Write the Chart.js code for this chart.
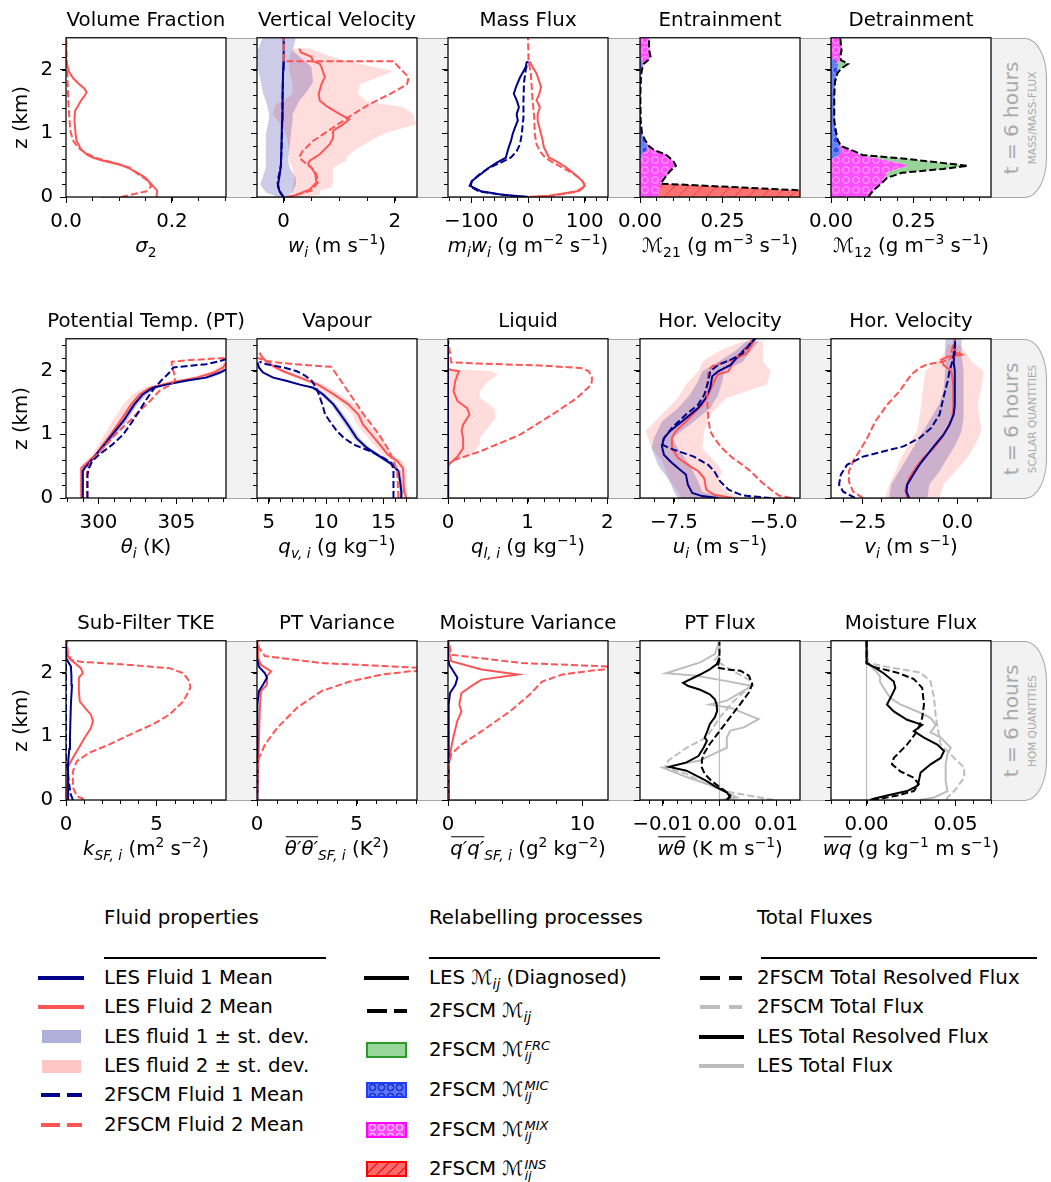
<!DOCTYPE html>
<html><head><meta charset="utf-8">
<script src="https://cdn.jsdelivr.net/npm/chart.js@4.4.1/dist/chart.umd.min.js"></script>
<style>
html,body{margin:0;padding:0;background:#fff;}
body{width:1051px;height:1182px;position:relative;overflow:hidden;font-family:"DejaVu Sans",sans-serif;color:#000;}
canvas{position:absolute;}
.band{position:absolute;box-sizing:border-box;background:#f2f2f2;border:1px solid #a6a6a6;border-left:none;border-radius:0 22px 22px 0/0 40px 40px 0;}
.side{position:absolute;transform:translate(-50%,-50%) rotate(-90deg);white-space:nowrap;color:#a9a9a9;}
.lg{position:absolute;font-size:19.8px;line-height:24px;height:24px;white-space:nowrap;}
.hl{position:absolute;height:4px;}
.rule{position:absolute;height:2px;background:#000;}
.patch{position:absolute;box-sizing:border-box;}
.ms{position:relative;display:inline-block;width:2em;height:0;}
.ms .sp{position:absolute;left:1px;bottom:2px;font-size:0.66em;font-style:italic;line-height:1.2;}
.ms .sb{position:absolute;left:1px;top:-7px;font-size:0.66em;font-style:italic;line-height:1.2;}
sub{font-style:italic;font-size:0.7em;line-height:0;}
</style></head><body>
<div class="band" style="left:100px;top:38px;width:947px;height:160px"></div>
<div class="band" style="left:100px;top:339px;width:947px;height:160px"></div>
<div class="band" style="left:100px;top:641px;width:947px;height:160px"></div>
<div class="side" style="left:1011px;top:118px;font-size:20px">t = 6 hours</div>
<div class="side" style="left:1032px;top:118px;font-size:10.5px">MASS/MASS-FLUX</div>
<div class="side" style="left:1011px;top:419px;font-size:20px">t = 6 hours</div>
<div class="side" style="left:1032px;top:419px;font-size:10.5px">SCALAR QUANTITIES</div>
<div class="side" style="left:1011px;top:721px;font-size:20px">t = 6 hours</div>
<div class="side" style="left:1032px;top:721px;font-size:10.5px">HOM QUANTITIES</div>

<!-- Legend column 1 -->
<div class="lg" style="left:104px;top:906px">Fluid properties</div>
<div class="rule" style="left:104px;top:957px;width:222px"></div>
<div class="hl" style="left:38px;top:976px;width:46px;background:#00008b"></div>
<div class="lg" style="left:104px;top:966px">LES Fluid 1 Mean</div>
<div class="hl" style="left:38px;top:1005px;width:46px;background:#ff5555"></div>
<div class="lg" style="left:104px;top:995px">LES Fluid 2 Mean</div>
<div class="patch" style="left:42px;top:1030px;width:39px;height:13px;background:#aeb0da"></div>
<div class="lg" style="left:104px;top:1025px">LES fluid 1 ± st. dev.</div>
<div class="patch" style="left:42px;top:1060px;width:39px;height:13px;background:#ffc6c6"></div>
<div class="lg" style="left:104px;top:1054px">LES fluid 2 ± st. dev.</div>
<div class="hl" style="left:41px;top:1093px;width:19px;background:#00008b"></div>
<div class="hl" style="left:67px;top:1093px;width:15px;background:#00008b"></div>
<div class="lg" style="left:104px;top:1083px">2FSCM Fluid 1 Mean</div>
<div class="hl" style="left:41px;top:1123px;width:19px;background:#ff5555"></div>
<div class="hl" style="left:67px;top:1123px;width:15px;background:#ff5555"></div>
<div class="lg" style="left:104px;top:1113px">2FSCM Fluid 2 Mean</div>

<!-- Legend column 2 -->
<div class="lg" style="left:429px;top:906px">Relabelling processes</div>
<div class="rule" style="left:429px;top:957px;width:231px"></div>
<div class="hl" style="left:364px;top:976px;width:45px;background:#000"></div>
<div class="lg" style="left:429px;top:966px">LES ℳ<sub>ij</sub> (Diagnosed)</div>
<div class="hl" style="left:367px;top:1009px;width:20px;background:#000"></div>
<div class="hl" style="left:394px;top:1009px;width:13px;background:#000"></div>
<div class="lg" style="left:429px;top:999px">2FSCM ℳ<sub>ij</sub></div>
<div class="patch" style="left:366px;top:1042px;width:41px;height:16px;background:#99d699;border:2px solid #2e9a2e"></div>
<div class="lg" style="left:429px;top:1038px">2FSCM ℳ<span class="ms"><span class="sp">FRC</span><span class="sb">ij</span></span></div>
<div class="patch" style="left:366px;top:1082px;width:41px;height:16px;background-color:#5a78ff;border:2px solid #1f3cff;background-image:radial-gradient(circle,#5a78ff 2px,#2231c8 2.6px,#2231c8 3.6px,rgba(0,0,0,0) 4.2px);background-size:9px 9px;background-position:0 -1px"></div>
<div class="lg" style="left:429px;top:1078px">2FSCM ℳ<span class="ms"><span class="sp">MIC</span><span class="sb">ij</span></span></div>
<div class="patch" style="left:366px;top:1122px;width:41px;height:16px;background-color:#ff44ff;border:2px solid #ff00ff;background-image:radial-gradient(circle,#ff44ff 2px,#ffb0ff 2.6px,#ffb0ff 3.6px,rgba(0,0,0,0) 4.2px);background-size:9px 9px;background-position:0 -1px"></div>
<div class="lg" style="left:429px;top:1118px">2FSCM ℳ<span class="ms"><span class="sp">MIX</span><span class="sb">ij</span></span></div>
<div class="patch" style="left:366px;top:1161px;width:41px;height:16px;background-color:#ff6b6b;border:2px solid #ff0000;background-image:repeating-linear-gradient(135deg,rgba(0,0,0,0) 0 6px,#ff1a1a 6px 7.5px)"></div>
<div class="lg" style="left:429px;top:1157px">2FSCM ℳ<span class="ms"><span class="sp">INS</span><span class="sb">ij</span></span></div>

<!-- Legend column 3 -->
<div class="lg" style="left:757px;top:906px">Total Fluxes</div>
<div class="rule" style="left:761px;top:957px;width:276px"></div>
<div class="hl" style="left:700px;top:976px;width:20px;background:#000"></div>
<div class="hl" style="left:729px;top:976px;width:13px;background:#000"></div>
<div class="lg" style="left:757px;top:966px">2FSCM Total Resolved Flux</div>
<div class="hl" style="left:700px;top:1005px;width:20px;background:#bdbdbd"></div>
<div class="hl" style="left:729px;top:1005px;width:13px;background:#bdbdbd"></div>
<div class="lg" style="left:757px;top:995px">2FSCM Total Flux</div>
<div class="hl" style="left:699px;top:1035px;width:45px;background:#000"></div>
<div class="lg" style="left:757px;top:1025px">LES Total Resolved Flux</div>
<div class="hl" style="left:699px;top:1064px;width:45px;background:#bdbdbd"></div>
<div class="lg" style="left:757px;top:1054px">LES Total Flux</div>

<script>
// ---------------- DATA (z in km) ----------------
const zTicks = [0, 1, 2];
const zLabels = ['0', '1', '2'];

// Volume fraction (fluid 2)
const vfZ = [0,0.1,0.2,0.3,0.36,0.46,0.51,0.57,0.62,0.67,0.75,0.88,1.0,1.2,1.35,1.42,1.51,1.59,1.64,1.7,1.77,1.86,1.96,2.04,2.14,2.3,2.5];
const vfLes2 = [0.171,0.172,0.161,0.15,0.139,0.117,0.101,0.07,0.05,0.039,0.028,0.02,0.018,0.016,0.017,0.022,0.028,0.035,0.039,0.035,0.025,0.014,0.006,0.003,0.001,0,0];
const vfZd = [0,0.09,0.17,0.25,0.36,0.46,0.51,0.57,0.62,0.7,0.78,0.88,0.99,1.09,1.25,1.5,1.8,2.0,2.2,2.5];
const vfDash2 = [0.104,0.152,0.161,0.155,0.136,0.12,0.101,0.076,0.054,0.035,0.022,0.014,0.0095,0.0076,0.0063,0.0044,0.003,0.0025,0.0013,0.0006];

// Vertical velocity
const wB1Z = [0,0.07,0.2,0.3,0.46,0.57,0.72,0.99,1.2,1.3,1.51,1.62,1.8,2.04,2.3,2.5];
const wB1L = [-0.11,-0.32,-0.42,-0.38,-0.32,-0.32,-0.33,-0.32,-0.27,-0.26,-0.32,-0.37,-0.41,-0.47,-0.47,-0.38];
const wB1R = [0.04,0.16,0.22,0.22,0.11,0.08,0.1,0.13,0.16,0.16,0.28,0.39,0.53,0.5,0.16,0.22];
const wB2Z = [0,0.04,0.1,0.15,0.23,0.3,0.46,0.57,0.62,0.72,0.88,0.99,1.04,1.14,1.3,1.41,1.46,1.5,1.62,1.77,1.98,2.04,2.2,2.33];
const wB2L = [0.08,0.16,0.16,0.16,0.18,0.19,0.16,0.09,0.1,0.1,0.07,0.04,0.01,-0.05,-0.2,-0.17,-0.14,-0.02,0.16,0.16,0.1,0.1,0.1,0.16];
const wB2R = [0.4,0.65,0.65,0.86,0.89,0.89,0.89,1.13,1.13,1.25,1.55,1.79,1.98,2.37,2.34,2.16,1.79,1.49,1.34,1.37,1.98,1.61,0.86,0.47];
const wL1Z = [0,0.1,0.2,0.36,0.5,0.8,1.2,1.6,2.0,2.3,2.5];
const wL1 = [0,-0.08,-0.1,-0.07,-0.05,-0.04,-0.03,-0.02,-0.01,0,0];
const wD1Z = [0,0.05,0.15,0.25,0.36,0.5,0.7,1.0,1.5,2.0,2.13];
const wD1 = [0,-0.05,-0.1,-0.11,-0.08,-0.05,-0.04,-0.03,-0.02,-0.01,0];
const wL2Z = [0,0.04,0.12,0.23,0.36,0.46,0.51,0.57,0.67,0.83,0.93,1.04,1.14,1.22,1.3,1.41,1.51,1.62,1.77,1.88,2.04,2.09,2.13,2.2,2.27,2.33];
const wL2 = [0.1,0.25,0.47,0.59,0.57,0.5,0.44,0.47,0.65,0.83,0.89,0.89,1.07,1.18,1.01,0.8,0.65,0.63,0.68,0.74,0.68,0.65,0.53,0.5,0.31,0.28];
const wD2Z = [0,0.02,0.1,0.23,0.36,0.46,0.57,0.62,0.72,0.88,1.09,1.3,1.46,1.62,1.77,1.88,2.04,2.13,2.13,2.5];
const wD2 = [0.05,0.16,0.5,0.62,0.59,0.5,0.34,0.28,0.34,0.53,0.89,1.25,1.55,1.92,2.22,2.25,2.07,1.98,0,0];

// Mass flux
const mL1Z = [0,0.04,0.09,0.17,0.25,0.36,0.46,0.54,0.62,0.78,0.88,0.99,1.09,1.2,1.3,1.41,1.52,1.62,1.73,1.88,1.96,2.04,2.13];
const mL1 = [0,-48,-83,-101,-99,-83,-69,-55,-39,-34,-30,-27,-23,-18,-20,-16,-20,-25,-21,-14,-9,-4,-2];
const mD1Z = [0,0.02,0.09,0.17,0.25,0.36,0.46,0.54,0.62,0.72,0.83,0.99,1.25,1.52,1.8,2.0,2.13];
const mD1 = [0,-34,-87,-103,-99,-85,-68,-48,-30,-20,-14,-11,-8,-8,-7,-4,0];
const mL2Z = [0,0.02,0.09,0.17,0.25,0.36,0.46,0.54,0.62,0.78,0.88,0.99,1.2,1.3,1.41,1.52,1.62,1.73,1.94,2.04,2.13];
const mL2 = [0,37,86,100,96,82,68,54,37,28,26,23,17,17,21,15,20,23,15,8,3];
const mD2Z = [0,0.02,0.09,0.17,0.25,0.36,0.46,0.54,0.62,0.72,0.83,0.99,1.25,1.52,1.94,2.13,2.5];
const mD2 = [0,44,89,101,96,81,61,44,30,21,15,12,11,8,5,1,0];

// Entrainment components (M21)
const entZ = [0,0.05,0.1,0.15,0.21,0.3,0.4,0.49,0.57,0.67,0.73,0.8,0.9,1.0,1.2,1.6,1.9,2.0,2.09,2.15,2.2,2.3,2.5];
const entMic = [0,0,0,0,0,0,0,0,0,0.005,0.02,0.022,0.012,0.005,0.002,0.001,0.003,0.006,0.008,0.005,0,0,0];
const entMix = [0.054,0.056,0.058,0.06,0.0625,0.075,0.09,0.109,0.1,0.073,0.025,0.005,0.003,0.001,0,0,0,0,0.003,0.02,0.032,0.028,0.027];
const entFrc = [0,0,0,0,0,0,0,0,0,0,0,0,0,0,0,0,0,0,0,0,0,0,0];
const entIns = [0.85,0.65,0.45,0.245,0,0,0,0,0,0,0,0,0,0,0,0,0,0,0,0,0,0,0];

// Detrainment components (M12)
const detZ = [0,0.1,0.2,0.3,0.38,0.44,0.49,0.54,0.6,0.66,0.72,0.8,0.9,1.0,1.2,1.4,1.6,1.8,1.95,2.02,2.09,2.15,2.2,2.3,2.4,2.5];
const detMic = [0,0,0,0,0,0,0,0,0.005,0.025,0.03,0.025,0.02,0.016,0.01,0.01,0.01,0.012,0.018,0.02,0.022,0.01,0,0,0,0];
const detMix = [0.113,0.128,0.15,0.165,0.17,0.2,0.235,0.2,0.14,0.06,0.04,0.005,0,0,0,0,0,0,0,0,0,0.015,0.028,0.032,0.03,0.028];
const detFrc = [0,0,0,0.005,0.045,0.14,0.18,0.13,0.08,0.01,0,0,0,0,0,0,0,0,0.002,0.012,0.03,0.005,0,0,0,0];
const detIns = [0,0,0,0,0,0,0,0,0,0,0,0,0,0,0,0,0,0,0,0,0,0,0,0,0,0];

// Potential temperature
const thL1Z = [0,0.42,0.47,0.52,0.58,0.68,0.84,1.0,1.21,1.47,1.63,1.73,1.78,1.84,1.89,1.97,2.02];
const thL1 = [298.95,299.0,299.1,299.3,299.5,299.85,300.4,300.9,301.6,302.3,302.85,303.5,304.35,305.6,306.9,307.8,308.2];
const thB1L = [298.85,298.9,299.0,299.15,299.35,299.7,300.2,300.7,301.4,302.1,302.6,303.2,304.0,305.2,306.5,307.5,308.0];
const thB1R = [299.05,299.1,299.25,299.45,299.65,300.0,300.6,301.1,301.8,302.5,303.1,303.8,304.7,306.0,307.3,308.1,308.4];
const thL2Z = [0,0.47,0.52,0.58,0.68,0.84,1.0,1.21,1.47,1.63,1.73,1.78,1.82,1.89,1.97,2.05,2.13];
const thL2 = [298.9,298.9,299.1,299.4,299.85,300.3,300.8,301.4,302.1,302.65,303.3,304.1,304.8,306.3,307.4,308.0,308.2];
const thB2L = [298.8,298.8,298.95,299.2,299.6,300.0,300.4,300.9,301.6,302.2,302.9,303.7,304.4,305.9,307.0,307.7,308.0];
const thB2R = [299.0,299.0,299.25,299.6,300.1,300.6,301.2,301.8,302.5,303.1,303.7,304.5,305.2,306.7,307.8,308.3,308.4];
const thD1Z = [0,0.37,0.47,0.58,0.68,0.84,1.0,1.21,1.36,1.52,1.63,1.73,1.81,1.89,1.92,1.97,2.05,2.07,2.1,2.15,2.18];
const thD1 = [299.3,299.3,299.4,299.6,300.05,300.9,301.6,302.2,302.6,303.0,303.3,303.6,303.9,304.2,304.35,304.55,304.8,305.6,306.9,307.8,308.2];
const thD2Z = [0,0.42,0.58,0.68,0.84,1.0,1.21,1.36,1.52,1.68,1.78,1.84,1.92,2.0,2.07,2.14,2.16,2.18,2.2];
const thD2 = [299.27,299.27,299.5,299.9,300.5,301.1,302.0,302.6,303.3,303.9,304.6,304.9,304.9,304.8,304.7,304.7,305.6,306.9,308.2];

// Vapour
const qvL1Z = [0,0.1,0.26,0.42,0.52,0.63,0.79,0.94,1.1,1.26,1.47,1.63,1.73,1.78,1.84,1.89,1.97,2.05,2.13];
const qvL1 = [16.55,16.55,16.45,16.3,15.8,14.87,13.53,12.66,12.09,11.47,10.64,9.72,8.89,7.71,6.52,5.39,4.51,4.15,4.02];
const qvB1L = [16.4,16.4,16.3,16.1,15.55,14.6,13.25,12.4,11.8,11.2,10.4,9.45,8.6,7.4,6.2,5.15,4.35,4.05,4.0];
const qvB1R = [16.7,16.7,16.6,16.5,16.05,15.15,13.8,12.95,12.35,11.75,10.9,10.0,9.2,8.0,6.85,5.65,4.65,4.25,4.05];
const qvL2Z = [0,0.1,0.21,0.31,0.47,0.58,0.68,0.84,1.0,1.15,1.31,1.47,1.63,1.78,1.89,1.99,2.07,2.15,2.2,2.28];
const qvL2 = [17.0,16.8,16.75,16.75,16.7,16.21,15.39,14.67,13.94,13.22,12.81,11.93,10.64,9.3,7.71,6.26,5.39,4.77,4.46,4.2];
const qvB2L = [16.75,16.55,16.5,16.5,16.4,15.8,14.95,14.15,13.4,12.7,12.3,11.4,10.1,8.8,7.25,5.9,5.1,4.55,4.3,4.1];
const qvB2R = [17.25,17.05,17.0,17.0,17.0,16.6,15.8,15.2,14.5,13.75,13.35,12.45,11.2,9.8,8.2,6.65,5.7,5.0,4.65,4.35];
const qvD1Z = [0,0.44,0.55,0.63,0.73,0.84,0.94,1.05,1.15,1.31,1.47,1.63,1.73,1.84,1.92,1.99,2.05,2.1,2.14];
const qvD1 = [15.87,15.87,15.7,15.0,13.9,12.4,11.57,10.95,10.54,9.92,9.67,9.36,9.15,8.74,8.17,7.45,6.31,4.8,4.2];
const qvD2Z = [0,0.42,0.52,0.63,0.74,1.0,1.3,1.6,1.9,2.06,2.1,2.15,2.2];
const qvD2 = [16.3,16.2,16.0,15.75,15.5,14.6,13.32,12.19,11.06,10.44,7.14,4.77,4.05];

// Liquid
const qlL2Z = [0,0.5,0.52,0.65,0.78,0.94,1.05,1.15,1.31,1.41,1.52,1.67,1.83,1.94,1.99,2.01,2.03,2.5];
const qlL2 = [0,0,0.01,0.12,0.19,0.19,0.17,0.19,0.27,0.24,0.12,0.07,0.09,0.12,0.14,0.04,0,0];
const qlB2Z = [0.5,0.58,0.68,0.84,0.94,1.1,1.26,1.41,1.57,1.67,1.83,1.94,1.99,2.02];
const qlB2L = [0,0,0,0,0,0,0,0,0,0,0,0,0,0];
const qlB2R = [0,0.1,0.3,0.4,0.4,0.5,0.6,0.58,0.4,0.4,0.5,0.63,0.55,0.1];
const qlD2Z = [0,0.5,0.58,0.73,0.99,1.31,1.57,1.78,1.88,1.99,2.04,2.08,2.11,2.13,2.5];
const qlD2 = [0,0,0.04,0.4,0.9,1.31,1.62,1.8,1.81,1.77,1.67,1.16,0.4,0.04,0];
const qlL1Z = [0,2.5];
const qlL1 = [0,0];

// Horizontal velocity u
const uL1Z = [0,0.03,0.08,0.21,0.37,0.47,0.58,0.68,0.81,0.94,1.05,1.2,1.41,1.57,1.73,1.91,1.99,2.09,2.2,2.3,2.43,2.5];
const uL1 = [-6.39,-6.79,-7.04,-7.15,-7.2,-7.4,-7.6,-7.75,-7.8,-7.75,-7.6,-7.3,-6.9,-6.7,-6.59,-6.54,-6.39,-6.08,-5.93,-5.78,-5.58,-5.48];
const uL2Z = [0,0.05,0.13,0.31,0.42,0.5,0.63,0.78,0.94,1.05,1.2,1.46,1.62,1.83,1.94,1.99,2.12,2.2,2.27,2.35,2.46];
const uL2 = [-6.03,-6.49,-6.69,-6.74,-6.89,-7.1,-7.4,-7.55,-7.55,-7.45,-7.2,-6.79,-6.64,-6.49,-6.4,-6.13,-6.03,-5.9,-5.68,-5.6,-5.5];
const uD1Z = [0,0.04,0.13,0.26,0.42,0.52,0.65,0.78,0.84,0.94,1.1,1.31,1.46,1.62,1.83,1.99,2.09,2.17,2.27,2.46,2.5];
const uD1 = [-5.07,-5.78,-6.13,-6.34,-6.49,-6.64,-7.0,-7.6,-7.8,-7.75,-7.55,-7.2,-6.9,-6.74,-6.64,-6.59,-6.39,-6.08,-5.78,-5.53,-5.45];
const uD2Z = [0,0.04,0.13,0.26,0.42,0.52,0.63,0.78,0.94,1.05,1.26,1.46,1.73,1.99,2.07,2.14,2.2,2.3,2.48];
const uD2 = [-4.56,-4.87,-5.07,-5.32,-5.58,-5.78,-6.03,-6.29,-6.49,-6.59,-6.64,-6.66,-6.67,-6.64,-6.54,-6.18,-5.95,-5.75,-5.55];
const uB1Z = [0,0.1,0.26,0.52,0.78,0.94,1.2,1.41,1.62,1.83,1.99,2.14,2.3,2.46];
const uB1L = [-7.4,-7.5,-7.6,-7.9,-8.06,-8.0,-7.8,-7.4,-7.1,-6.9,-6.79,-6.39,-5.98,-5.68];
const uB1R = [-6.18,-6.79,-6.89,-7.1,-7.4,-7.55,-7.0,-6.59,-6.39,-6.29,-6.24,-5.78,-5.58,-5.37];
const uB2Z = [0,0.1,0.26,0.42,0.58,0.78,1.05,1.31,1.57,1.78,1.99,2.14,2.3,2.46];
const uB2L = [-7.3,-7.4,-7.6,-7.7,-7.8,-8.06,-8.21,-7.8,-7.4,-7.2,-6.89,-6.79,-6.39,-5.78];
const uB2R = [-5.78,-6.18,-6.39,-6.29,-6.49,-6.79,-6.74,-6.59,-6.18,-5.17,-5.07,-5.27,-5.27,-5.27];

// Horizontal velocity v
const vL1Z = [0,0.1,0.21,0.37,0.52,0.68,0.84,0.99,1.15,1.31,1.46,1.73,1.99,2.14,2.3,2.5];
const vL1 = [-1.27,-1.34,-1.32,-1.16,-1.0,-0.79,-0.58,-0.37,-0.21,-0.1,-0.07,-0.07,-0.07,-0.1,-0.07,-0.07];
const vL2Z = [0,0.13,0.31,0.47,0.63,0.78,0.94,1.1,1.26,1.41,1.57,1.78,1.99,2.09,2.17,2.22,2.25,2.3,2.41];
const vL2 = [-1.32,-1.37,-1.27,-1.1,-0.9,-0.63,-0.42,-0.26,-0.14,-0.11,-0.11,-0.11,-0.16,-0.37,-0.42,-0.26,0.1,-0.16,-0.11];
const vD1Z = [0,0.1,0.21,0.37,0.52,0.65,0.73,0.81,0.94,1.1,1.31,1.57,1.83,1.99,2.09,2.2,2.5];
const vD1 = [-2.69,-3.0,-3.11,-3.06,-2.9,-2.48,-1.95,-1.42,-1.0,-0.69,-0.47,-0.37,-0.26,-0.21,-0.16,-0.11,-0.05];
const vD2Z = [0,0.1,0.26,0.42,0.58,0.73,0.94,1.2,1.46,1.67,1.94,2.04,2.1,2.14,2.2,2.25,2.35,2.5];
const vD2 = [-2.48,-2.74,-2.85,-2.85,-2.74,-2.58,-2.37,-2.16,-1.85,-1.53,-1.21,-1.0,-0.79,-0.37,-0.16,0.1,-0.1,-0.07];
const vB1Z = [0,0.21,0.42,0.63,0.84,1.05,1.26,1.47,1.68,1.99,2.25,2.5];
const vB1L = [-1.79,-1.74,-1.53,-1.32,-1.11,-0.9,-0.69,-0.48,-0.37,-0.32,-0.32,-0.32];
const vB1R = [-0.79,-0.74,-0.47,-0.26,-0.05,0.11,0.16,0.16,0.16,0.16,0.11,0.11];
const vB2Z = [0,0.21,0.42,0.63,0.84,1.05,1.26,1.47,1.73,1.99,2.14,2.25,2.41];
const vB2L = [-1.9,-1.79,-1.63,-1.48,-1.27,-1.06,-1.0,-0.95,-0.9,-0.84,-0.58,-0.37,-0.26];
const vB2R = [-0.47,-0.37,-0.05,0.26,0.47,0.63,0.58,0.53,0.63,0.69,0.37,0.26,0.05];

// Sub-filter TKE
const kL1Z = [0,0.3,0.56,0.8,1.0,1.5,1.8,1.95,2.1,2.2,2.35,2.5];
const kL1 = [0.15,0.12,0.11,0.18,0.22,0.27,0.33,0.3,0.27,0.05,0.02,0.01];
const kD1Z = [0,0.1,0.3,0.5,0.6,0.7,2.5];
const kD1 = [0.38,0.25,0.15,0.08,0.02,0,0];
const kL2Z = [0,0.51,0.61,0.82,0.98,1.13,1.24,1.34,1.45,1.55,1.71,1.92,1.99,2.07,2.23,2.33,2.5];
const kL2 = [0.04,0.11,0.27,0.71,1.04,1.38,1.49,1.38,1.04,0.76,0.71,0.71,0.93,0.82,0.15,0.04,0];
const kD2Z = [0,0.02,0.06,0.2,0.45,0.61,0.74,0.87,1.05,1.19,1.34,1.55,1.76,1.86,1.99,2.07,2.13,2.17,2.2,2.33,2.5];
const kD2 = [0.93,0.93,0.6,0.38,0.38,0.6,1.27,2.38,3.71,4.82,5.71,6.49,6.87,6.82,6.49,5.71,3.04,0.82,0.27,0.1,0.04];

// PT variance
const ttL1Z = [0,1.5,1.71,1.81,1.92,1.99,2.09,2.2,2.5];
const ttL1 = [0,0.02,0.1,0.3,0.5,0.4,0.1,0.02,0];
const ttL2Z = [0,1.0,1.5,1.71,1.81,1.95,2.02,2.12,2.2,2.3,2.5];
const ttL2 = [0.02,0.1,0.15,0.2,0.5,0.5,0.71,0.2,0.1,0.06,0.02];
const ttD2Z = [0,0.5,0.66,0.87,1.13,1.45,1.71,1.86,1.97,2.02,2.05,2.075,2.15,2.26,2.39,2.5];
const ttD2 = [0,0.02,0.1,0.4,1.01,2.02,3.24,4.66,6.3,7.7,9.5,8.2,3.24,0.4,0.1,0.02];

// Moisture variance
const qqL1Z = [0,1.5,1.68,1.81,1.92,2.02,2.12,2.2,2.5];
const qqL1 = [0,0.05,0.15,0.55,0.7,0.4,0.1,0.03,0];
const qqL2Z = [0,0.5,0.72,0.98,1.24,1.39,1.5,1.68,1.81,1.89,1.97,2.05,2.18,2.3,2.5];
const qqL2 = [0,0.03,0.15,0.39,0.69,1.0,0.84,1.0,1.9,2.5,5.2,2.5,0.24,0.1,0.03];
const qqD2Z = [0,0.5,0.72,0.87,1.08,1.39,1.66,1.86,1.97,2.04,2.07,2.1,2.15,2.28,2.5];
const qqD2 = [0,0.02,0.24,1.0,2.5,4.6,6.1,7.0,8.5,11.0,13.0,11.5,5.5,0.24,0.05];

// PT flux
const wtD0Z = [0,0.07,0.12,0.2,0.3,0.41,0.51,0.62,0.72,0.88,1.09,1.3,1.51,1.69,1.82,1.95,2.03,2.05,2.08,2.2,2.48];
const wtD0 = [0.0013,0.0019,0.0013,0.0001,-0.0014,-0.0026,-0.0031,-0.0031,-0.0028,-0.0017,0.0001,0.0019,0.0037,0.0052,0.0058,0.0052,0.0037,0.0013,-0.0004,0,0];
const wtL0Z = [0,0.05,0.12,0.2,0.3,0.46,0.52,0.59,0.69,0.82,0.93,0.98,1.09,1.19,1.3,1.4,1.5,1.58,1.66,1.73,1.79,1.84,1.97,2.05,2.13,2.23];
const wtL0 = [0.0013,0.0019,0.0013,-0.0005,-0.0023,-0.0058,-0.0088,-0.0058,-0.0037,-0.0028,-0.0022,-0.0026,-0.0021,-0.0017,-0.0008,-0.0004,-0.0005,-0.0008,-0.0017,-0.0034,-0.0055,-0.0064,-0.0034,-0.0017,-0.0005,0];
const wtLZ = [0,0.04,0.09,0.22,0.36,0.51,0.56,0.62,0.72,0.82,0.98,1.09,1.14,1.27,1.45,1.5,1.56,1.7,1.79,1.87,1.95,1.99,2.16,2.29,2.5];
const wtL = [0,0.0031,0.0019,-0.0011,-0.0058,-0.01,-0.007,-0.0034,-0.0011,0.0013,0.0013,0.0019,0.0043,0.0069,0.0019,-0.0017,0.0013,0.004,0.0058,0.001,-0.004,-0.0094,-0.0034,-0.0008,0];
const wtDZ = [0,0.04,0.12,0.27,0.41,0.51,0.62,0.82,0.98,1.3,1.55,1.79,1.89,2.05,2.2,2.29,2.48];
const wtD = [0.0096,0.0072,0.0019,-0.0028,-0.0058,-0.0096,-0.009,-0.0058,-0.0023,0.0001,0.0025,0.0055,0.0052,0.0019,-0.0008,0.0001,0];

// Moisture flux
const wqL0Z = [0,0.02,0.07,0.14,0.22,0.3,0.43,0.56,0.66,0.77,0.87,0.98,1.08,1.18,1.26,1.39,1.5,1.6,1.76,1.86,1.99,2.09,2.15,2.5];
const wqL0 = [0.002,0.004,0.0115,0.0228,0.0285,0.0294,0.0304,0.036,0.0417,0.0436,0.0398,0.0323,0.0266,0.0313,0.0228,0.0153,0.0115,0.0134,0.0162,0.0153,0.0096,0.004,0,0];
const wqD0Z = [0,0.02,0.07,0.14,0.25,0.35,0.45,0.56,0.66,0.87,1.08,1.29,1.5,1.76,1.9,2.0,2.09,2.15,2.5];
const wqD0 = [0.003,0.0077,0.0172,0.0266,0.0294,0.0266,0.019,0.0143,0.0153,0.0228,0.0285,0.0313,0.0323,0.0313,0.0266,0.0172,0.004,0,0];
const wqLZ = [0,0.04,0.14,0.3,0.56,0.72,0.82,0.98,1.06,1.18,1.29,1.39,1.5,1.6,1.76,1.86,1.93,2.0,2.15,2.5];
const wqL = [0.03,0.038,0.0455,0.0445,0.0445,0.0455,0.0474,0.0417,0.036,0.039,0.036,0.0285,0.019,0.0134,0.0096,0.0075,0.0077,0.006,0.0005,0];
const wqDZ = [0,0.04,0.14,0.35,0.51,0.66,0.87,1.29,1.6,1.86,2.0,2.09,2.15,2.5];
const wqD = [0.045,0.0455,0.0493,0.0549,0.0549,0.0493,0.0417,0.039,0.038,0.036,0.0304,0.0115,0.001,0];

const zeroZ = [0, 2.5];
const zeroX = [0, 0];

// Tick values / labels
const tVF = [0, 0.2], lVF = ['0.0', '0.2'];
const tW = [0, 2], lW = ['0', '2'];
const tMF = [-100, 0, 100], lMF = ['\u2212100', '0', '100'];
const tEN = [0, 0.25], lEN = ['0.00', '0.25'];
const tTH = [300, 305], lTH = ['300', '305'];
const tQV = [5, 10, 15], lQV = ['5', '10', '15'];
const tQL = [0, 1, 2], lQL = ['0', '1', '2'];
const tU = [-7.5, -5.0], lU = ['\u22127.5', '\u22125.0'];
const tV = [-2.5, 0.0], lV = ['\u22122.5', '0.0'];
const tK = [0, 5], lK = ['0', '5'];
const tQQ = [0, 10], lQQ = ['0', '10'];
const tWT = [-0.01, 0, 0.01], lWT = ['\u22120.01', '0.00', '0.01'];
const tWQ = [0, 0.05], lWQ = ['0.00', '0.05'];

// ---------------- STYLE ----------------
const FONT = '"DejaVu Sans", sans-serif';
const FS = 19.8;
Chart.defaults.font.family = FONT;
Chart.defaults.font.size = FS;
Chart.defaults.color = '#000';
const C1 = '#00008b', C2 = '#ff5555', GREY = '#bdbdbd';
const B1 = 'rgba(0,0,139,0.2)', B2 = 'rgba(255,85,85,0.2)';
const COLS = [66, 257, 448, 640, 831];
const ROWS = [38, 339, 641];
const PW = 160, PH = 159;

function makePattern(size, bg, draw) {
  const c = document.createElement('canvas'); c.width = size; c.height = size;
  const g = c.getContext('2d'); g.fillStyle = bg; g.fillRect(0, 0, size, size); draw(g);
  return g.createPattern(c, 'repeat');
}
const micPat = makePattern(10, '#5f7cff', g => { g.fillStyle = '#3150f0'; g.beginPath(); g.arc(5, 5, 3.3, 0, 2*Math.PI); g.fill(); g.strokeStyle = '#9db0ff'; g.lineWidth = 0.8; g.stroke(); });
const mixPat = makePattern(10, '#ff4dff', g => { g.strokeStyle = '#ffa8ff'; g.lineWidth = 1.1; g.beginPath(); g.arc(5, 5, 3.2, 0, 2*Math.PI); g.stroke(); });
const insPat = makePattern(14, '#ff7272', g => { g.strokeStyle = '#ff3a3a'; g.lineWidth = 1; g.beginPath(); g.moveTo(0, 14); g.lineTo(14, 0); g.moveTo(-7, 7); g.lineTo(7, -7); g.moveTo(7, 21); g.lineTo(21, 7); g.stroke(); });
const frcCol = '#98d498';

const pts = (xs, zs) => xs.map((x, i) => ({x: x, y: zs[i]}));
function L(xs, zs, color, dashed, order) {
  return {data: pts(xs, zs), borderColor: color, borderWidth: 2, borderDash: dashed ? [7, 3] : [],
    pointRadius: 0, pointHoverRadius: 0, fill: false, tension: 0, order: order};
}
function Bd(left, right, zs, color) {
  const up = zs.map((z, i) => ({x: right[i], y: z}));
  const dn = zs.map((z, i) => ({x: left[i], y: z})).reverse();
  return {data: up.concat(dn), borderColor: 'rgba(0,0,0,0)', borderWidth: 0, backgroundColor: color,
    fill: 'shape', pointRadius: 0, pointHoverRadius: 0, order: 10};
}
function cum(arrs) {
  const out = []; let acc = arrs[0].map(() => 0); out.push(acc);
  for (const a of arrs) { acc = acc.map((v, i) => v + a[i]); out.push(acc); }
  return out;
}
const ent = cum([entMic, entMix, entFrc, entIns]);
const det = cum([detMic, detMix, detFrc, detIns]);

const S = (t, o) => Object.assign({t: t}, o || {});
const msm1 = [S(' (m s'), S('\u22121', {sup: 1}), S(')')];
const labVF = [S('σ', {it: 1}), S('2', {sub: 1})];
const labW = [S('w', {it: 1}), S('i', {it: 1, sub: 1})].concat(msm1);
const labMF = [S('m', {it: 1}), S('i', {it: 1, sub: 1}), S('w', {it: 1}), S('i', {it: 1, sub: 1}), S(' (g m'), S('\u22122', {sup: 1}), S(' s'), S('\u22121', {sup: 1}), S(')')];
const labEN = [S('ℳ'), S('21', {sub: 1}), S(' (g m'), S('\u22123', {sup: 1}), S(' s'), S('\u22121', {sup: 1}), S(')')];
const labDE = [S('ℳ'), S('12', {sub: 1}), S(' (g m'), S('\u22123', {sup: 1}), S(' s'), S('\u22121', {sup: 1}), S(')')];
const labTH = [S('θ', {it: 1}), S('i', {it: 1, sub: 1}), S(' (K)')];
const labQV = [S('q', {it: 1}), S('v, i', {it: 1, sub: 1}), S(' (g kg'), S('\u22121', {sup: 1}), S(')')];
const labQL = [S('q', {it: 1}), S('l, i', {it: 1, sub: 1}), S(' (g kg'), S('\u22121', {sup: 1}), S(')')];
const labU = [S('u', {it: 1}), S('i', {it: 1, sub: 1})].concat(msm1);
const labV = [S('v', {it: 1}), S('i', {it: 1, sub: 1})].concat(msm1);
const labK = [S('k', {it: 1}), S('SF, i', {it: 1, sub: 1}), S(' (m'), S('2', {sup: 1}), S(' s'), S('\u22122', {sup: 1}), S(')')];
const labTT = [S('θ′θ′', {it: 1, ol: 1}), S('SF, i', {it: 1, sub: 1}), S(' (K'), S('2', {sup: 1}), S(')')];
const labQQ = [S('q′q′', {it: 1, ol: 1}), S('SF, i', {it: 1, sub: 1}), S(' (g'), S('2', {sup: 1}), S(' kg'), S('\u22122', {sup: 1}), S(')')];
const labWT = [S('wθ', {it: 1, ol: 1}), S(' (K m s'), S('\u22121', {sup: 1}), S(')')];
const labWQ = [S('wq', {it: 1, ol: 1}), S(' (g kg'), S('\u22121', {sup: 1}), S(' m s'), S('\u22121', {sup: 1}), S(')')];

const panels = [
  {r:0,c:0,title:'Volume Fraction',xr:[0,0.302],xt:tVF,xl:lVF,xm:0.05,lab:labVF,ds:[
    L(vfDash2,vfZd,C2,1,1), L(vfLes2,vfZ,C2,0,2)]},
  {r:0,c:1,title:'Vertical Velocity',xr:[-0.48,2.4],xt:tW,xl:lW,xm:0.5,lab:labW,ds:[
    L(wD1,wD1Z,C1,1,0), L(wD2,wD2Z,C2,1,1), L(wL1,wL1Z,C1,0,2), L(wL2,wL2Z,C2,0,3),
    Bd(wB1L,wB1R,wB1Z,B1), Bd(wB2L,wB2R,wB2Z,B2)]},
  {r:0,c:2,title:'Mass Flux',xr:[-141,141],xt:tMF,xl:lMF,xm:20,lab:labMF,ds:[
    L(mD1,mD1Z,C1,1,0), L(mD2,mD2Z,C2,1,1), L(mL1,mL1Z,C1,0,2), L(mL2,mL2Z,C2,0,3)]},
  {r:0,c:3,title:'Entrainment',xr:[0,0.485],xt:tEN,xl:lEN,xm:0.05,lab:labEN,ds:[
    L(ent[4],entZ,'#000',1,0),
    Bd(ent[0],ent[1],entZ,micPat), Bd(ent[1],ent[2],entZ,mixPat), Bd(ent[2],ent[3],entZ,frcCol), Bd(ent[3],ent[4],entZ,insPat)]},
  {r:0,c:4,title:'Detrainment',xr:[0,0.485],xt:tEN,xl:lEN,xm:0.05,lab:labDE,ds:[
    L(det[4],detZ,'#000',1,0),
    Bd(det[0],det[1],detZ,micPat), Bd(det[1],det[2],detZ,mixPat), Bd(det[2],det[3],detZ,frcCol), Bd(det[3],det[4],detZ,insPat)]},

  {r:1,c:0,title:'Potential Temp. (PT)',xr:[297.92,308.18],xt:tTH,xl:lTH,xm:1,lab:labTH,ds:[
    L(thD1,thD1Z,C1,1,0), L(thD2,thD2Z,C2,1,1), L(thL1,thL1Z,C1,0,2), L(thL2,thL2Z,C2,0,3),
    Bd(thB1L,thB1R,thL1Z,B1), Bd(thB2L,thB2R,thL2Z,B2)]},
  {r:1,c:1,title:'Vapour',xr:[3.98,17.92],xt:tQV,xl:lQV,xm:1,lab:labQV,ds:[
    L(qvD1,qvD1Z,C1,1,0), L(qvD2,qvD2Z,C2,1,1), L(qvL1,qvL1Z,C1,0,2), L(qvL2,qvL2Z,C2,0,3),
    Bd(qvB1L,qvB1R,qvL1Z,B1), Bd(qvB2L,qvB2R,qvL2Z,B2)]},
  {r:1,c:2,title:'Liquid',xr:[0,2.01],xt:tQL,xl:lQL,xm:0.2,lab:labQL,ds:[
    L(qlL1,qlL1Z,C1,1,0), L(qlD2,qlD2Z,C2,1,1), L(qlL1,qlL1Z,C1,0,2), L(qlL2,qlL2Z,C2,0,3),
    Bd(qlB2L,qlB2R,qlB2Z,B2)]},
  {r:1,c:3,title:'Hor. Velocity',xr:[-8.35,-4.34],xt:tU,xl:lU,xm:0.5,lab:labU,ds:[
    L(uD1,uD1Z,C1,1,0), L(uD2,uD2Z,C2,1,1), L(uL1,uL1Z,C1,0,2), L(uL2,uL2Z,C2,0,3),
    Bd(uB1L,uB1R,uB1Z,B1), Bd(uB2L,uB2R,uB2Z,B2)]},
  {r:1,c:4,title:'Hor. Velocity',xr:[-3.32,0.88],xt:tV,xl:lV,xm:0.5,lab:labV,ds:[
    L(vD1,vD1Z,C1,1,0), L(vD2,vD2Z,C2,1,1), L(vL1,vL1Z,C1,0,2), L(vL2,vL2Z,C2,0,3),
    Bd(vB1L,vB1R,vB1Z,B1), Bd(vB2L,vB2R,vB2Z,B2)]},

  {r:2,c:0,title:'Sub-Filter TKE',xr:[0,8.84],xt:tK,xl:lK,xm:1,lab:labK,ds:[
    L(kD1,kD1Z,C1,1,0), L(kD2,kD2Z,C2,1,1), L(kL1,kL1Z,C1,0,2), L(kL2,kL2Z,C2,0,3)]},
  {r:2,c:1,title:'PT Variance',xr:[0,8.04],xt:tK,xl:lK,xm:1,lab:labTT,ds:[
    L(ttD2,ttD2Z,C2,1,1), L(ttL1,ttL1Z,C1,0,2), L(ttL2,ttL2Z,C2,0,3)]},
  {r:2,c:2,title:'Moisture Variance',xr:[0,11.9],xt:tQQ,xl:lQQ,xm:2,lab:labQQ,ds:[
    L(qqD2,qqD2Z,C2,1,1), L(qqL1,qqL1Z,C1,0,2), L(qqL2,qqL2Z,C2,0,3)]},
  {r:2,c:3,title:'PT Flux',xr:[-0.0140,0.0142],xt:tWT,xl:lWT,xm:0.0025,lab:labWT,ds:[
    L(wtD0,wtD0Z,'#000',1,0), L(wtL0,wtL0Z,'#000',0,1), L(wtD,wtDZ,GREY,1,2), L(wtL,wtLZ,GREY,0,3),
    Object.assign(L(zeroX,zeroZ,GREY,0,4), {borderWidth: 1.2})]},
  {r:2,c:4,title:'Moisture Flux',xr:[-0.02,0.07],xt:tWQ,xl:lWQ,xm:0.01,lab:labWQ,ds:[
    L(wqD0,wqD0Z,'#000',1,0), L(wqL0,wqL0Z,'#000',0,1), L(wqD,wqDZ,GREY,1,2), L(wqL,wqLZ,GREY,0,3),
    Object.assign(L(zeroX,zeroZ,GREY,0,4), {borderWidth: 1.2})]}
];

function minorTicks(min, max, step) {
  const out = [];
  for (let k = Math.ceil(min / step - 1e-9); k * step <= max + 1e-12; k++) out.push(k * step);
  return out;
}

function drawRich(ctx, segs, cx, base, size) {
  const parts = []; let total = 0;
  for (const s of segs) {
    const fs = (s.sub || s.sup) ? size * 0.7 : size;
    const font = (s.it ? 'italic ' : '') + fs + 'px ' + FONT;
    ctx.font = font;
    const w = ctx.measureText(s.t).width;
    parts.push({s: s, font: font, w: w, fs: fs}); total += w;
  }
  let x = cx - total / 2;
  ctx.save();
  ctx.fillStyle = '#000'; ctx.strokeStyle = '#000'; ctx.textAlign = 'left'; ctx.textBaseline = 'alphabetic';
  for (const p of parts) {
    ctx.font = p.font;
    let y = base;
    if (p.s.sub) y += size * 0.24;
    if (p.s.sup) y -= size * 0.4;
    ctx.fillText(p.s.t, x, y);
    if (p.s.ol) {
      ctx.lineWidth = 1.1; ctx.beginPath();
      ctx.moveTo(x + 1, y - size * 0.92); ctx.lineTo(x + p.w, y - size * 0.92); ctx.stroke();
    }
    x += p.w;
  }
  ctx.restore();
}

function build(p) {
  const Lp = COLS[p.c], Tp = ROWS[p.r];
  const yW = p.c === 0 ? 66 : 50;
  const cv = document.createElement('canvas');
  cv.width = 2 * yW + PW; cv.height = 34 + PH + 72;
  cv.style.left = (Lp - yW) + 'px'; cv.style.top = (Tp - 34) + 'px';
  document.body.appendChild(cv);
  const xMinor = minorTicks(p.xr[0], p.xr[1], p.xm);
  const yMinor = minorTicks(0, 2.5, 0.2);
  const deco = {
    id: 'deco',
    beforeDraw(chart) {
      const a = chart.chartArea, ctx = chart.ctx;
      ctx.save(); ctx.fillStyle = '#fff'; ctx.fillRect(a.left, a.top, a.right - a.left, a.bottom - a.top); ctx.restore();
    },
    afterDatasetsDraw(chart) {
      const a = chart.chartArea, ctx = chart.ctx;
      ctx.save(); ctx.strokeStyle = '#000'; ctx.lineWidth = 1.25;
      ctx.strokeRect(a.left, a.top, a.right - a.left, a.bottom - a.top); ctx.restore();
    },
    afterDraw(chart) {
      const a = chart.chartArea, ctx = chart.ctx;
      ctx.save(); ctx.strokeStyle = '#000'; ctx.lineWidth = 1; ctx.beginPath();
      for (const v of xMinor) { const px = Math.round(chart.scales.x.getPixelForValue(v)) + 0.5; ctx.moveTo(px, a.bottom); ctx.lineTo(px, a.bottom + 4); }
      for (const v of yMinor) { const py = Math.round(chart.scales.y.getPixelForValue(v)) + 0.5; ctx.moveTo(a.left - 4, py); ctx.lineTo(a.left, py); }
      ctx.stroke(); ctx.restore();
      drawRich(ctx, p.lab, (a.left + a.right) / 2, a.bottom + 55, FS);
    }
  };
  const gridOpt = {drawOnChartArea: false, drawTicks: true, tickLength: 6, tickColor: '#000', tickWidth: 1};
  const chart = new Chart(cv, {
    type: 'line',
    data: {datasets: p.ds},
    options: {
      responsive: false, maintainAspectRatio: false, animation: false, indexAxis: 'y', events: [],
      layout: {padding: 0},
      plugins: {
        legend: {display: false}, tooltip: {enabled: false},
        title: {display: true, text: p.title, color: '#000', font: {size: FS, weight: 'normal', family: FONT}, padding: {top: 4, bottom: 5}}
      },
      scales: {
        x: {type: 'linear', position: 'bottom', min: p.xr[0], max: p.xr[1],
          afterBuildTicks: s => { s.ticks = p.xt.map(v => ({value: v})); },
          afterFit: s => { s.height = 72; },
          ticks: {autoSkip: false, maxRotation: 0, minRotation: 0, padding: 7, color: '#000', font: {size: FS}, callback: (v, i) => p.xl[i]},
          grid: gridOpt, border: {display: false}, title: {display: false}},
        y: {type: 'linear', position: 'left', min: 0, max: 2.5,
          afterBuildTicks: s => { s.ticks = zTicks.map(v => ({value: v})); },
          afterFit: s => { s.width = yW; },
          ticks: {display: p.c === 0, autoSkip: false, padding: 7, color: '#000', font: {size: FS}, callback: (v, i) => zLabels[i]},
          grid: gridOpt, border: {display: false},
          title: {display: p.c === 0, text: 'z (km)', color: '#000', font: {size: FS}, padding: {top: 10, bottom: 0}}},
        yR: {type: 'linear', position: 'right', display: true, min: 0, max: 1,
          afterFit: s => { s.width = yW; },
          ticks: {display: false}, grid: {display: false, drawTicks: false}, border: {display: false}, title: {display: false}}
      }
    },
    plugins: [deco]
  });
  for (let k = 0; k < 3; k++) {
    const a = chart.chartArea;
    const dw = PW - (a.right - a.left), dh = PH - (a.bottom - a.top);
    if (Math.abs(dw) < 0.5 && Math.abs(dh) < 0.5) break;
    chart.resize(Math.round(chart.width + dw), Math.round(chart.height + dh));
  }
  const a = chart.chartArea;
  cv.style.left = (Lp - a.left) + 'px';
  cv.style.top = (Tp - a.top) + 'px';
  return chart;
}

panels.forEach(build);
</script>
</body></html>
